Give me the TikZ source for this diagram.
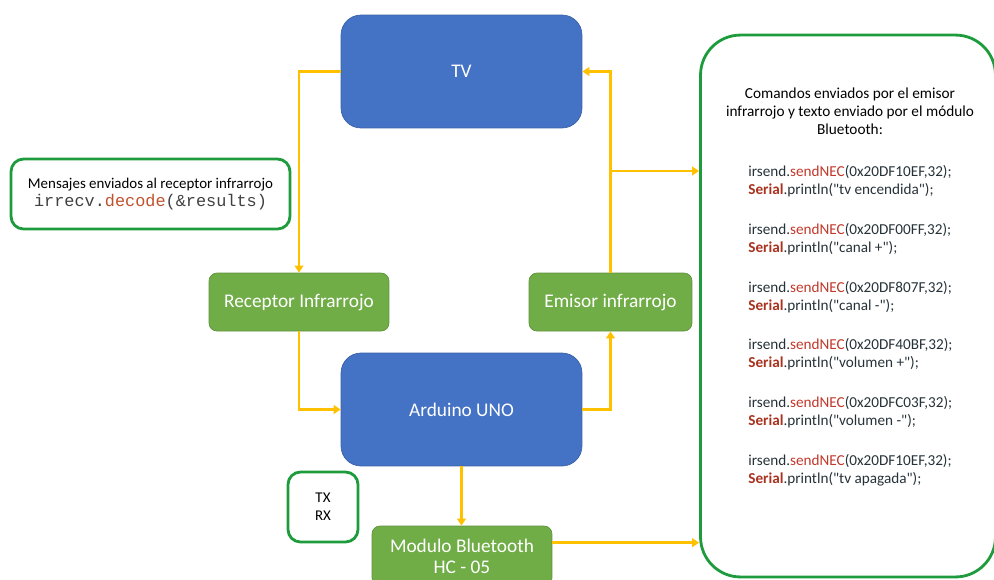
\documentclass[tikz,border=0pt]{standalone}
\usepackage{fontspec}
\setmainfont{Carlito}
\setmonofont{Liberation Mono}
\usetikzlibrary{positioning,calc,arrows.meta}

\definecolor{boxblue}{HTML}{4472C4}
\definecolor{boxgreen}{HTML}{70AD47}
\definecolor{flowyellow}{HTML}{FFC000}
\definecolor{framegreen}{HTML}{1E9B3C}
\definecolor{codered}{HTML}{C0392B}
\definecolor{serialred}{HTML}{A8321E}
\definecolor{codetext}{HTML}{263238}
\definecolor{monogray}{HTML}{404040}
\definecolor{monored}{HTML}{C0522D}

% one command sent by the emitter and its bluetooth text
\newcommand{\irgroup}[2]{irsend.\textcolor{codered}{sendNEC}(#1,32);\\
  \textcolor{serialred}{\textbf{Serial}}.println(\textquotedbl#2\textquotedbl);}

\begin{document}
\begin{tikzpicture}[x=0.02cm, y=-0.02cm]

        \tikzset{
            bluebox/.style={draw=boxblue!85!black, fill=boxblue, text=white,
                rounded corners=0.4cm, font=\fontsize{11}{13}\selectfont},
            greenbox/.style={draw=boxgreen!85!black, fill=boxgreen, text=white,
                rounded corners=0.16cm, font=\fontsize{11}{13}\selectfont,
                align=center},
            notebox/.style={draw=framegreen, line width=1.6pt,
                rounded corners=0.25cm, align=center,
                font=\fontsize{8.5}{10.2}\selectfont},
            flow/.style={draw=flowyellow, line width=1.6pt,
                -{Triangle[width=5pt,length=4pt]}}
        }

        \clip (0,0) rectangle (994,579);
        \useasboundingbox (0,0) rectangle (994,579);

        % Main blocks of the system
        \begin{scope}
            \node[bluebox, minimum width=4.82cm, minimum height=2.26cm]
            (tv) at (461.5, 71.5) {TV};
            \node[bluebox, minimum width=4.82cm, minimum height=2.26cm]
            (uno) at (461.5, 409.5) {Arduino UNO};
            \node[greenbox, minimum width=3.6cm, minimum height=1.16cm]
            (rx) at (299, 302) {Receptor Infrarrojo};
            \node[greenbox, minimum width=3.26cm, minimum height=1.16cm]
            (ir) at (610.5, 302) {Emisor infrarrojo};
            \node[greenbox, minimum width=3.6cm, minimum height=1.2cm]
            (bt) at (462, 556) {Modulo Bluetooth\\[-1pt] HC - 05};
        \end{scope}

        % Notes with the exchanged messages
        \begin{scope}
            \node[notebox, minimum width=5.58cm, minimum height=1.4cm]
            (msg) at (150.5, 194)
            {Mensajes enviados al receptor infrarrojo\\[0pt]
             {\fontsize{9.6}{11}\ttfamily\color{monogray}
              irrecv.\textcolor{monored}{decode}(\&results)}};
            \node[notebox, minimum width=1.4cm, minimum height=1.4cm]
            (txrx) at (323, 507) {TX\\ RX};
            \node[notebox, rounded corners=0.8cm,
                minimum width=5.9cm, minimum height=10.84cm]
            (panel) at (848, 306) {};

            \node[align=center, font=\fontsize{8.7}{10.3}\selectfont]
            (title) at (850, 111)
            {Comandos enviados por el emisor\\
             infrarrojo y texto enviado por el módulo\\
             Bluetooth:};
            \node[anchor=north west, align=left, inner sep=0pt,
                text=codetext, font=\fontsize{8.65}{10.2}\selectfont]
            (code) at (748, 165)
            {\irgroup{0x20DF10EF}{tv encendida}\\[12.5pt]
             \irgroup{0x20DF00FF}{canal +}\\[12.5pt]
             \irgroup{0x20DF807F}{canal -}\\[12.5pt]
             \irgroup{0x20DF40BF}{volumen +}\\[12.5pt]
             \irgroup{0x20DFC03F}{volumen -}\\[12.5pt]
             \irgroup{0x20DF10EF}{tv apagada}};
        \end{scope}

        \coordinate (split) at (610.5, 171);

        \begin{scope}
            \draw[flow] (tv.west) -| (rx.north);
            \draw[flow] (rx.south) |- (uno.west);
            \draw[flow] (uno.east) -| (ir.south);
            \draw[flow] (ir.north) |- (tv.east);
            \draw[flow] (split) -- (split -| panel.west);
            \draw[flow] (uno.south) -- (uno.south |- bt.north);
            \draw[flow] ([yshift=-0.34cm]bt.north east)
                -- ([yshift=-0.34cm]bt.north east -| panel.west);
        \end{scope}

\end{tikzpicture}
\end{document}
